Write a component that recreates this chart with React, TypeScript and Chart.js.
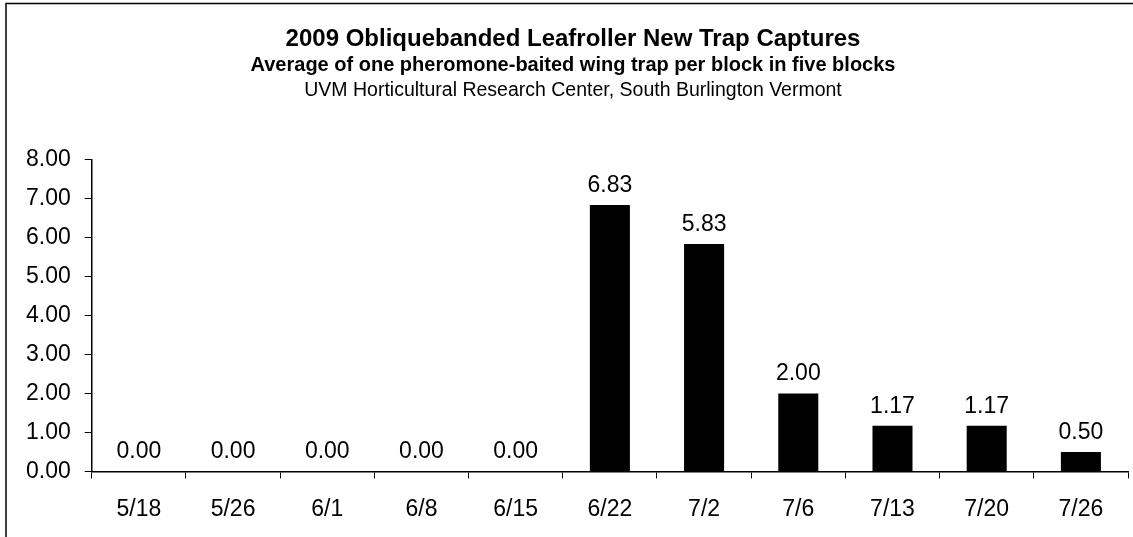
import React, { useEffect, useRef } from "react";
import { Chart, registerables } from "chart.js";

Chart.register(...registerables);

const categories = ["5/18", "5/26", "6/1", "6/8", "6/15", "6/22", "7/2", "7/6", "7/13", "7/20", "7/26"];
const captures = [0, 0, 0, 0, 0, 6.83, 5.83, 2.0, 1.17, 1.17, 0.5];
const titleLines = [
  "2009 Obliquebanded Leafroller New Trap Captures",
  "Average of one pheromone-baited wing trap per block in five blocks",
  "UVM Horticultural Research Center, South Burlington Vermont",
];
const FONT = "'Liberation Sans', Arial, Helvetica, sans-serif";

const decorPlugin = {
  id: "decor",
  afterDraw(chart: any) {
    const ctx = chart.ctx;
    ctx.save();
    // outer frame
    ctx.strokeStyle = "#000";
    ctx.lineWidth = 1.5;
    ctx.beginPath();
    ctx.moveTo(6, 2000);
    ctx.lineTo(6, 3.5);
    ctx.lineTo(2000, 3.5);
    ctx.stroke();
    // titles
    ctx.fillStyle = "#000";
    ctx.textAlign = "center";
    ctx.textBaseline = "alphabetic";
    const cx = 573;
    ctx.font = `bold 24px ${FONT}`;
    ctx.fillText(titleLines[0], cx, 46);
    ctx.font = `bold 20px ${FONT}`;
    ctx.fillText(titleLines[1], cx, 70.5);
    ctx.font = `19.5px ${FONT}`;
    ctx.fillText(titleLines[2], cx, 96);
    // data labels
    const meta = chart.getDatasetMeta(0);
    ctx.font = `23px ${FONT}`;
    meta.data.forEach((bar: any, i: number) => {
      const v = chart.data.datasets[0].data[i] as number;
      ctx.fillText(v.toFixed(2), bar.x, bar.y - 13);
    });
    ctx.restore();
  },
};

export default function App() {
  const ref = useRef<HTMLCanvasElement>(null);
  useEffect(() => {
    if (!ref.current) return;
    const chart = new Chart(ref.current, {
      type: "bar",
      data: {
        labels: categories,
        datasets: [
          {
            data: captures,
            backgroundColor: "#000",
            borderWidth: 0,
            barPercentage: 0.425,
            categoryPercentage: 1,
          },
        ],
      },
      options: {
        animation: false,
        responsive: false,
        devicePixelRatio: 1,
        layout: { padding: { top: 159.5, left: 12, right: 5, bottom: -3 } },
        plugins: {
          legend: { display: false },
          tooltip: { enabled: false },
          title: { display: false },
        },
        scales: {
          x: {
            grid: { display: true, drawOnChartArea: false, drawTicks: true, tickLength: 7, color: "#000", offset: true },
            border: { display: true, color: "#000", width: 1.5 },
            ticks: { color: "#000", font: { family: FONT, size: 23 }, padding: 17, maxRotation: 0, autoSkip: false },
          },
          y: {
            min: 0,
            max: 8,
            grid: { display: true, drawOnChartArea: false, drawTicks: true, tickLength: 7, color: "#000" },
            border: { display: true, color: "#000", width: 1.5 },
            ticks: {
              stepSize: 1,
              color: "#000",
              font: { family: FONT, size: 23 },
              padding: 14,
              callback: (v: any) => Number(v).toFixed(2),
            },
          },
        },
      },
      plugins: [decorPlugin],
    });
    return () => chart.destroy();
  }, []);
  return (
    <div style={{ position: "fixed", left: 0, top: 0, width: 1133, height: 537, background: "#fff" }}>
      <canvas ref={ref} width={1133} height={537} style={{ display: "block", width: 1133, height: 537 }} />
    </div>
  );
}
